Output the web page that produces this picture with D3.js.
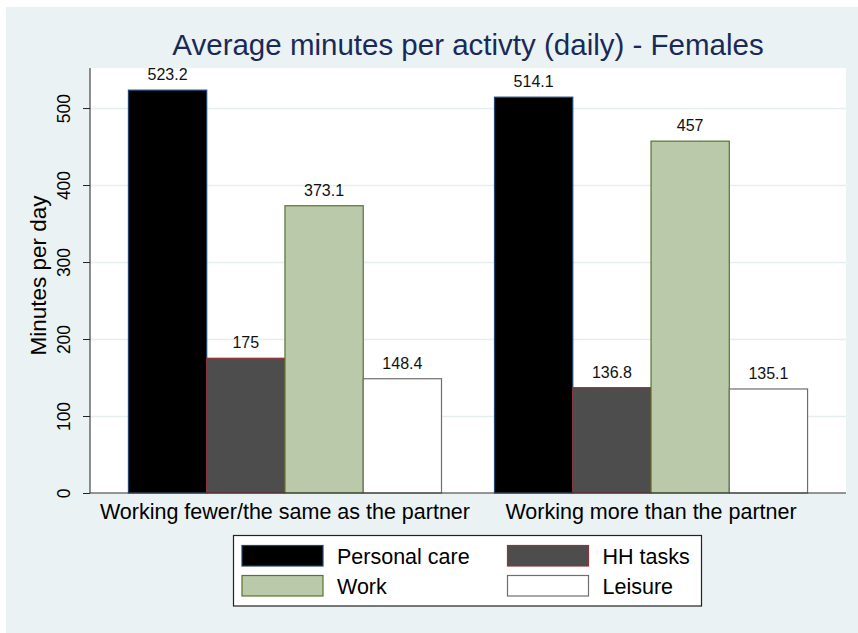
<!DOCTYPE html>
<html>
<head>
<meta charset="utf-8">
<script src="https://cdn.jsdelivr.net/npm/d3@7"></script>
<style>
  body { margin: 0; background: #fff; }
  text { font-family: "Liberation Sans", Arial, sans-serif; }
</style>
</head>
<body>
<svg id="svg" width="858" height="633"></svg>
<script>
//データ
const groups = ["Working fewer/the same as the partner", "Working more than the partner"];
const series = ["Personal care", "HH tasks", "Work", "Leisure"];
const personalCare = [523.2, 514.1];
const hhTasks = [175, 136.8];
const work = [373.1, 457];
const leisure = [148.4, 135.1];
const yTicks = [0, 100, 200, 300, 400, 500];
const yMax = 552;

//系列ごとの色
const fills = ["#000000", "#4d4d4d", "#bbc9ab", "#ffffff"];
const strokes = ["#1a476f", "#90353b", "#55752f", "#6e6e6e"];

const values = [personalCare, hhTasks, work, leisure];

const svg = d3.select("#svg");

//背景
svg.append("rect")
  .attr("x", 6).attr("y", 7)
  .attr("width", 852).attr("height", 626)
  .attr("fill", "#eaf2f3");

//プロット領域
const plot = { left: 90, right: 846, top: 68, bottom: 493 };
svg.append("rect")
  .attr("x", plot.left).attr("y", plot.top)
  .attr("width", plot.right - plot.left).attr("height", plot.bottom - plot.top)
  .attr("fill", "#ffffff");

const y = d3.scaleLinear().domain([0, yMax]).range([plot.bottom, plot.top]);
const x0 = d3.scaleBand()
  .domain(groups)
  .range([plot.left, plot.right])
  .paddingInner(0.1448)
  .paddingOuter(0.105);
const x1 = d3.scaleBand().domain(series).range([0, x0.bandwidth()]);

//グリッド線
svg.append("g")
  .attr("transform", `translate(${plot.left},0)`)
  .call(d3.axisLeft(y).tickValues(yTicks.filter((t) => t > 0)).tickSize(-(plot.right - plot.left)).tickFormat(""))
  .call((g) => g.select(".domain").remove())
  .call((g) => g.selectAll("line").attr("stroke", "#e6eef0").attr("stroke-width", 1.5));

//棒グラフ
groups.forEach((grp, gi) => {
  const gx = x0(grp);
  series.forEach((s, si) => {
    const v = values[si][gi];
    svg.append("rect")
      .attr("x", gx + x1(s))
      .attr("y", y(v))
      .attr("width", x1.bandwidth())
      .attr("height", y(0) - y(v))
      .attr("fill", fills[si])
      .attr("stroke", strokes[si])
      .attr("stroke-width", 1.2);
    //値ラベル
    svg.append("text")
      .attr("x", gx + x1(s) + x1.bandwidth() / 2)
      .attr("y", y(v) - 10)
      .attr("text-anchor", "middle")
      .attr("font-size", 16)
      .attr("fill", "#111")
      .text(String(v));
  });
  //カテゴリーラベル
  svg.append("text")
    .attr("x", gx + x0.bandwidth() / 2)
    .attr("y", 519)
    .attr("text-anchor", "middle")
    .attr("font-size", 21.5)
    .attr("fill", "#000")
    .text(grp);
});

//y軸
const yAxis = svg.append("g")
  .attr("transform", `translate(${plot.left},0)`)
  .call(d3.axisLeft(y).tickValues(yTicks).tickSize(7).tickSizeOuter(0).tickFormat(d3.format("d")));
yAxis.select(".domain").attr("stroke", "#222").attr("d", `M0,${plot.top}V${plot.bottom}`);
yAxis.selectAll(".tick line").attr("stroke", "#222");
yAxis.selectAll(".tick text")
  .attr("font-size", 17.5)
  .attr("fill", "#000")
  .attr("font-family", "Liberation Sans, Arial, sans-serif")
  .attr("text-anchor", "middle")
  .attr("dy", null)
  .attr("x", null)
  .attr("transform", "translate(-20,0) rotate(-90)");

//x軸の線
svg.append("line")
  .attr("x1", plot.left).attr("x2", plot.right)
  .attr("y1", plot.bottom).attr("y2", plot.bottom)
  .attr("stroke", "#333").attr("stroke-width", 1.2);

//軸タイトル
svg.append("text")
  .attr("transform", `translate(46,${(plot.top + plot.bottom) / 2 - 5}) rotate(-90)`)
  .attr("text-anchor", "middle")
  .attr("font-size", 22.5)
  .attr("fill", "#000")
  .text("Minutes per day");

//タイトル
svg.append("text")
  .attr("x", (plot.left + plot.right) / 2)
  .attr("y", 55)
  .attr("text-anchor", "middle")
  .attr("font-size", 29.5)
  .attr("fill", "#1a2a58")
  .text("Average minutes per activty (daily) - Females");

//凡例
const legend = svg.append("g");
legend.append("rect")
  .attr("x", 233.5).attr("y", 535.5)
  .attr("width", 468).attr("height", 70.5)
  .attr("fill", "#ffffff")
  .attr("stroke", "#222").attr("stroke-width", 1.2);
const legendCols = [242, 507.5];
const legendRows = [545.5, 575.5];
series.forEach((s, si) => {
  const lx = legendCols[si % 2];
  const ly = legendRows[Math.floor(si / 2)];
  legend.append("rect")
    .attr("x", lx).attr("y", ly)
    .attr("width", 81).attr("height", 20.5)
    .attr("fill", fills[si])
    .attr("stroke", strokes[si])
    .attr("stroke-width", 1.2);
  legend.append("text")
    .attr("x", lx + 95)
    .attr("y", ly + 18.5)
    .attr("font-size", 21.5)
    .attr("fill", "#000")
    .text(s);
});
</script>
</body>
</html>
